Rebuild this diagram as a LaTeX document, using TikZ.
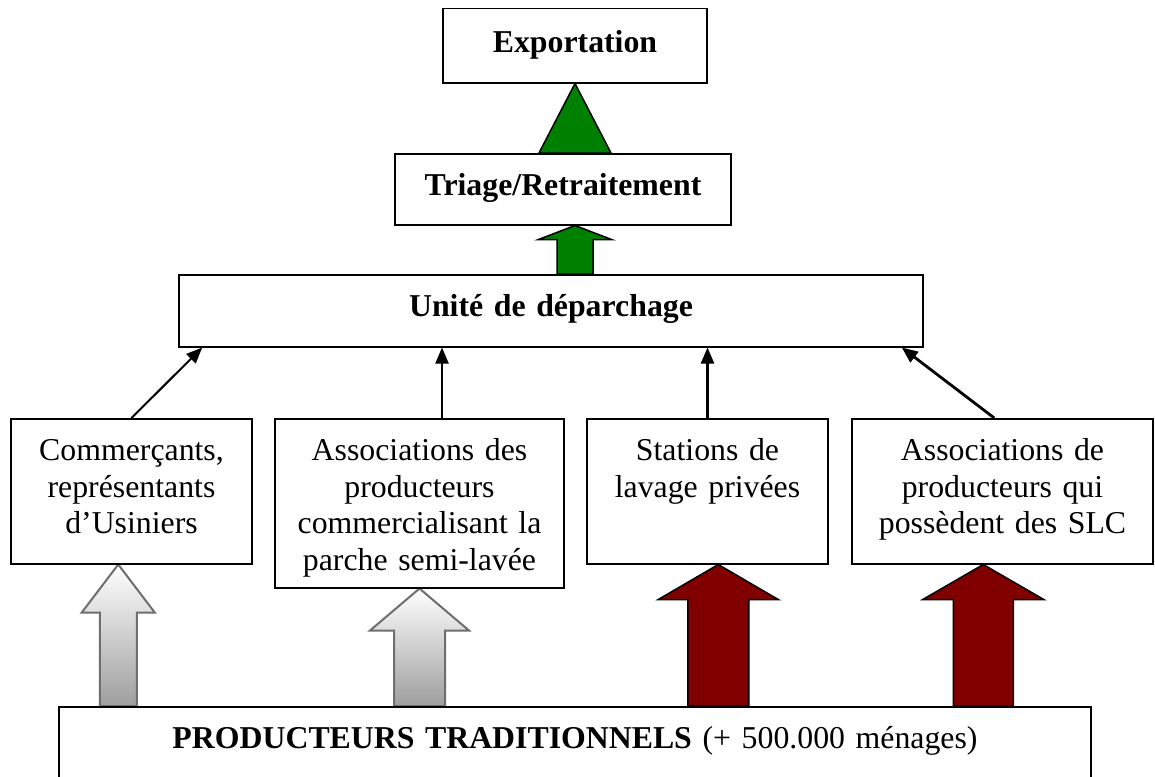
\documentclass[tikz,border=0pt]{standalone}
\usepackage{fontspec}
\setmainfont{Liberation Serif}
\usetikzlibrary{arrows.meta,calc,backgrounds}
\definecolor{dgreen}{RGB}{0,128,0}
\definecolor{maroonred}{RGB}{128,0,0}
\definecolor{agray}{RGB}{110,110,110}
% #1 style, #2 tip, #3 base node anchor, #4 head length, #5 head half width, #6 shaft half width
\newcommand\blockarrow[6]{%
  \draw[#1] (#2) -- ($(#2)+(#5,#4)$) -- ($(#2)+(#6,#4)$) -- ($(#2 |- #3)+(#6,0)$)
     -- ($(#2 |- #3)+(-#6,0)$) -- ($(#2)+(-#6,#4)$) -- ($(#2)+(-#5,#4)$) -- cycle;}
\begin{document}
\begin{tikzpicture}[x=1pt,y=-1pt,
  box/.style={draw, line width=1.5pt, fill=white, inner sep=0pt, align=center, anchor=north,
    text height=42pt, font=\fontsize{31.8}{36.5}\selectfont},
  link/.style={line width=2pt, -{Triangle[length=16pt,width=13pt]}},
  greenarrow/.style={draw=black, line width=1.5pt, fill=dgreen},
  redarrow/.style={draw=black, line width=1.5pt, fill=maroonred},
  grayarrow/.style={draw=agray, line width=2pt, top color=white, bottom color=black!38}]

\useasboundingbox (0,0) rectangle (1155,776);
\clip (0,0) rectangle (1155,776);

\node[box, text width=264pt, text height=44pt, text depth=30pt] (ex) at (575,8) {\textbf{Exportation}};
\node[box, text width=336pt, text depth=29pt] (tr) at (563,153) {\textbf{Triage/Retraitement}};
\node[box, text width=744pt, text depth=30pt] (u) at (551,274) {\textbf{Unité de déparchage}};
\node[box, text width=241pt, text depth=103pt] (b1) at (131.5,418) {Commerçants,\\représentants\\d’Usiniers};
\node[box, text width=289pt, text depth=127pt] (b2) at (419.5,418) {Associations des\\producteurs\\commercialisant la\\parche semi-lavée};
\node[box, text width=241pt, text depth=103pt] (b3) at (707.5,418) {Stations de\\lavage privées};
\node[box, text width=301pt, text depth=103pt] (b4) at (1002.5,418) {Associations de\\producteurs qui\\possèdent des SLC};
\node[box, text width=1032pt, text depth=60pt] (p) at (575,706) {\textbf{PRODUCTEURS TRADITIONNELS} (+ 500.000 ménages)};

% thin connectors
\draw[link] (b1.north) -- ($(u.south west)+(24,0)$);
\coordinate (a2) at ($(b2.north)+(22.5,0)$);
\draw[link] (a2) -- (a2 |- u.south);
\draw[link, line width=2.4pt] (b3.north) -- (b3.north |- u.south);
\draw[link, line width=2.8pt] ($(b4.north west)+(143,0)$) -- ($(u.south east)+(-22,0)$);

% block arrows
\coordinate (t1) at ($(b1.south west)+(108,0)$);
\coordinate (t3) at ($(b3.south west)+(132,0)$);
\coordinate (t4) at ($(b4.south west)+(132,0)$);
\coordinate (g) at (ex.south |- tr.south);
\begin{scope}[on background layer]
  \blockarrow{grayarrow}{t1}{p.north}{48}{36.5}{18.5}
  \blockarrow{grayarrow}{b2.south}{p.north}{42}{49.5}{25.5}
  \blockarrow{redarrow}{t3}{p.north}{35}{60}{30.5}
  \blockarrow{redarrow}{t4}{p.north}{35}{60.5}{30}
  \blockarrow{greenarrow}{g}{u.north}{14}{36.5}{18}
  \draw[greenarrow] (ex.south) -- ($(ex.south |- tr.north)+(36,0)$) -- ($(ex.south |- tr.north)+(-36,0)$) -- cycle;
\end{scope}
\end{tikzpicture}
\end{document}
